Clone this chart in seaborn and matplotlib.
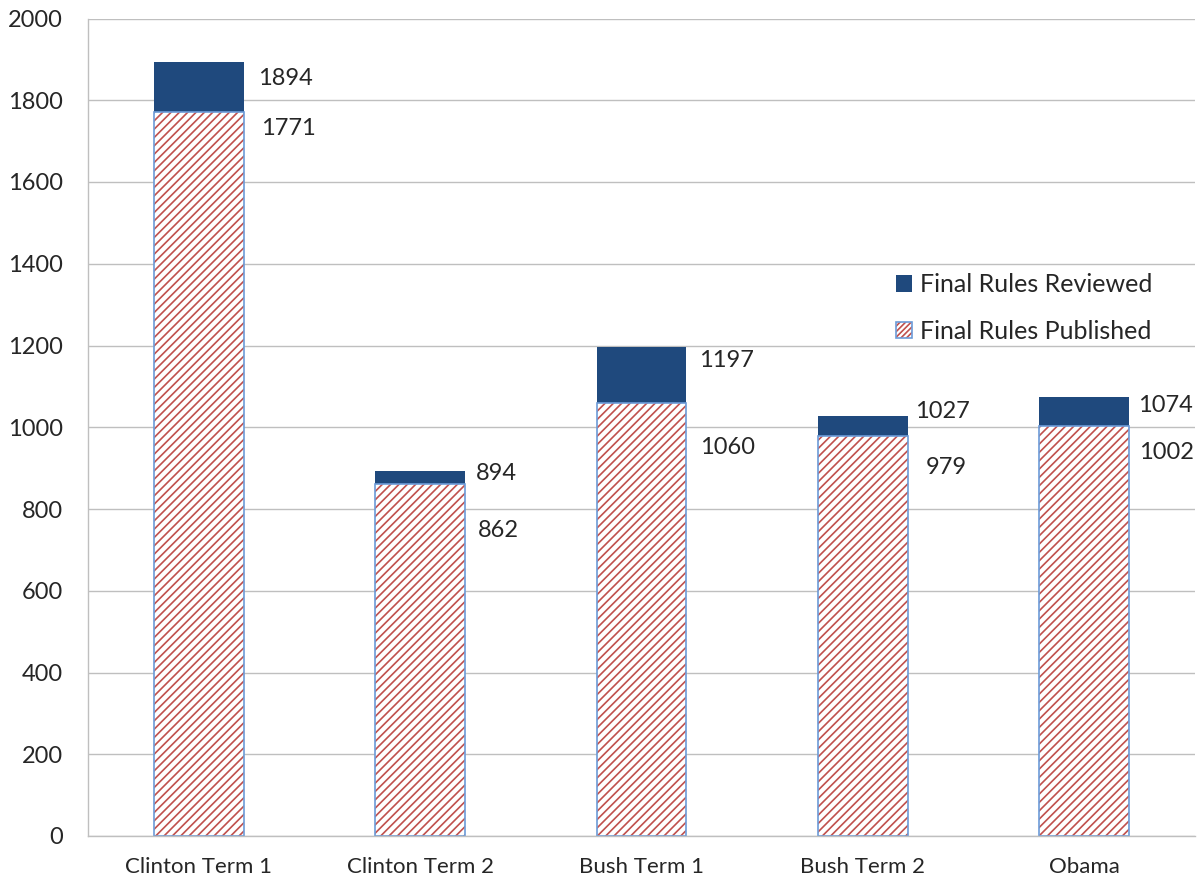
import numpy as np
import pandas as pd
import matplotlib
matplotlib.use('Agg')
import matplotlib.pyplot as plt
import seaborn as sns
from matplotlib.patches import Patch
from matplotlib.legend_handler import HandlerTuple

terms = ['Clinton Term 1', 'Clinton Term 2', 'Bush Term 1', 'Bush Term 2', 'Obama']
reviewed = [1894, 894, 1197, 1027, 1074]
published = [1771, 862, 1060, 979, 1002]

# label nudges in pixels (right of bar, down from bar top) - hand placed in the original
rev_off = [(14, 17), (11, 3), (13, 14), (7, -5), (9, 8)]
pub_off = [(17, 16), (13, 47), (14, 45), (18, 32), (10, 26)]

df = pd.DataFrame({'term': terms, 'reviewed': reviewed, 'published': published})

sns.set_style('white')
plt.rcParams['font.family'] = ['Lato', 'DejaVu Sans']
plt.rcParams['hatch.linewidth'] = 1.2

navy = '#1F497D'
red = '#C0504D'
edge = '#6C9BD8'
grey = '#BFBFBF'
fs = 16

fig = plt.figure(figsize=(11.98, 8.82), dpi=100)
ax = fig.add_axes([88/1198, 46/882, 1107/1198, 817.5/882])

sns.barplot(data=df, x='term', y='reviewed', color=navy, width=0.405,
            saturation=1, linewidth=0, ax=ax)
n = len(ax.patches)
sns.barplot(data=df, x='term', y='published', color='white', width=0.405,
            saturation=1, linewidth=0, ax=ax)
sns.barplot(data=df, x='term', y='published', color='white', width=0.405,
            saturation=1, linewidth=0, ax=ax)
rev_bars = ax.patches[:n]
pub_bars = ax.patches[n:2*n]
out_bars = ax.patches[2*n:3*n]

for p in pub_bars:
    p.set_facecolor('white')
    p.set_edgecolor(red)
    p.set_linewidth(0)
    p.set_hatch('////')
for p in out_bars:
    p.set_facecolor('none')
    p.set_edgecolor(edge)
    p.set_linewidth(1.2)

for p, v, (dx, dy) in zip(rev_bars, reviewed, rev_off):
    ax.annotate(f'{v}', xy=(p.get_x() + p.get_width(), p.get_height()),
                xytext=(dx, -dy), textcoords='offset pixels',
                ha='left', va='center', fontsize=fs + 1)
for p, v, (dx, dy) in zip(pub_bars, published, pub_off):
    ax.annotate(f'{v}', xy=(p.get_x() + p.get_width(), p.get_height()),
                xytext=(dx, -dy), textcoords='offset pixels',
                ha='left', va='center', fontsize=fs + 1)

ax.set_ylim(0, 2000)
ax.set_yticks(range(0, 2001, 200))
ax.set_xlim(-0.5, 4.5)
ax.yaxis.grid(True, color=grey, linewidth=1)
ax.set_axisbelow(True)
ax.set_xlabel('')
ax.set_ylabel('')
for s in ['top', 'right']:
    ax.spines[s].set_visible(False)
for s in ['left', 'bottom']:
    ax.spines[s].set_color(grey)
    ax.spines[s].set_linewidth(1)
ax.tick_params(axis='y', length=0, pad=18, labelsize=fs + 1)
ax.tick_params(axis='x', length=0, pad=15, labelsize=fs)

h_rev = Patch(facecolor=navy, edgecolor=navy, linewidth=0)
h_pub = (Patch(facecolor='white', edgecolor=red, hatch='//////', linewidth=0),
         Patch(facecolor='none', edgecolor=edge, linewidth=1.2))
ax.legend([h_rev, h_pub], ['Final Rules Reviewed', 'Final Rules Published'],
          handler_map={tuple: HandlerTuple(ndivide=1)},
          loc='upper left', bbox_to_anchor=((886 - 88) / 1107, (836 - 263) / 817.5),
          frameon=False, fontsize=18, handlelength=0.65, handleheight=0.65,
          handletextpad=0.3, labelspacing=0.95, borderaxespad=0)

fig.savefig('out.png', dpi=100)
